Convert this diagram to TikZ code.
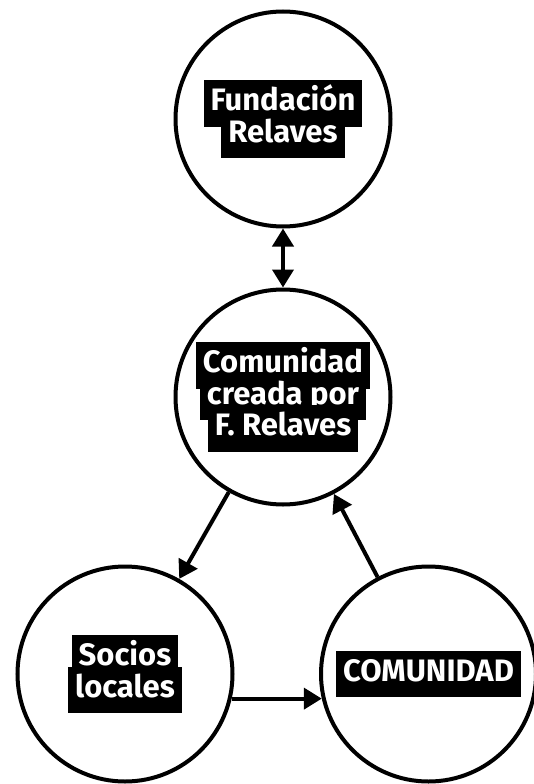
\documentclass[tikz,border=0pt]{standalone}
\usepackage{fontspec}
\setmainfont{Fira Sans}
\usetikzlibrary{arrows.meta}
\definecolor{inkblack}{HTML}{000000}
\setlength{\fboxsep}{0pt}
\lineskiplimit=-100pt
\newcommand{\blkline}[1]{\colorbox{inkblack}{\vrule height 30.5pt depth 16pt width 0pt\hspace{7pt}#1\hspace{7pt}}}

\begin{document}
\begin{tikzpicture}[x=1pt, y=1pt, >={Triangle[length=18pt,width=21pt]},
  ring/.style={circle, draw=inkblack, line width=4pt, minimum size=215pt, inner sep=0pt, align=center, text=white, font=\fontsize{31}{31.5}\selectfont\bfseries},
  link/.style={draw=inkblack, line width=4pt}]

\useasboundingbox (0,0) rectangle (533,-784);

\node[ring] at (283,-119) (fund) {\blkline{Fundación}\\\blkline{Relaves}};
\node[ring] at (283,-397) (comm) {\blkline{Comunidad}\\\blkline{creada por}\\\blkline{F. Relaves}};
\node[ring] at (125,-674) (socios) {\blkline{Socios}\\\blkline{locales}};
\node[ring] at (428.5,-674) (comunidad) {\blkline{COMUNIDAD}};

\draw[link, <->] (fund) -- (comm);
\draw[link, ->] (comm) -- (socios);
\draw[link, ->] (comunidad) -- (comm);
\draw[link, ->] (socios.-13) -- (comunidad.193);
\end{tikzpicture}
\end{document}
